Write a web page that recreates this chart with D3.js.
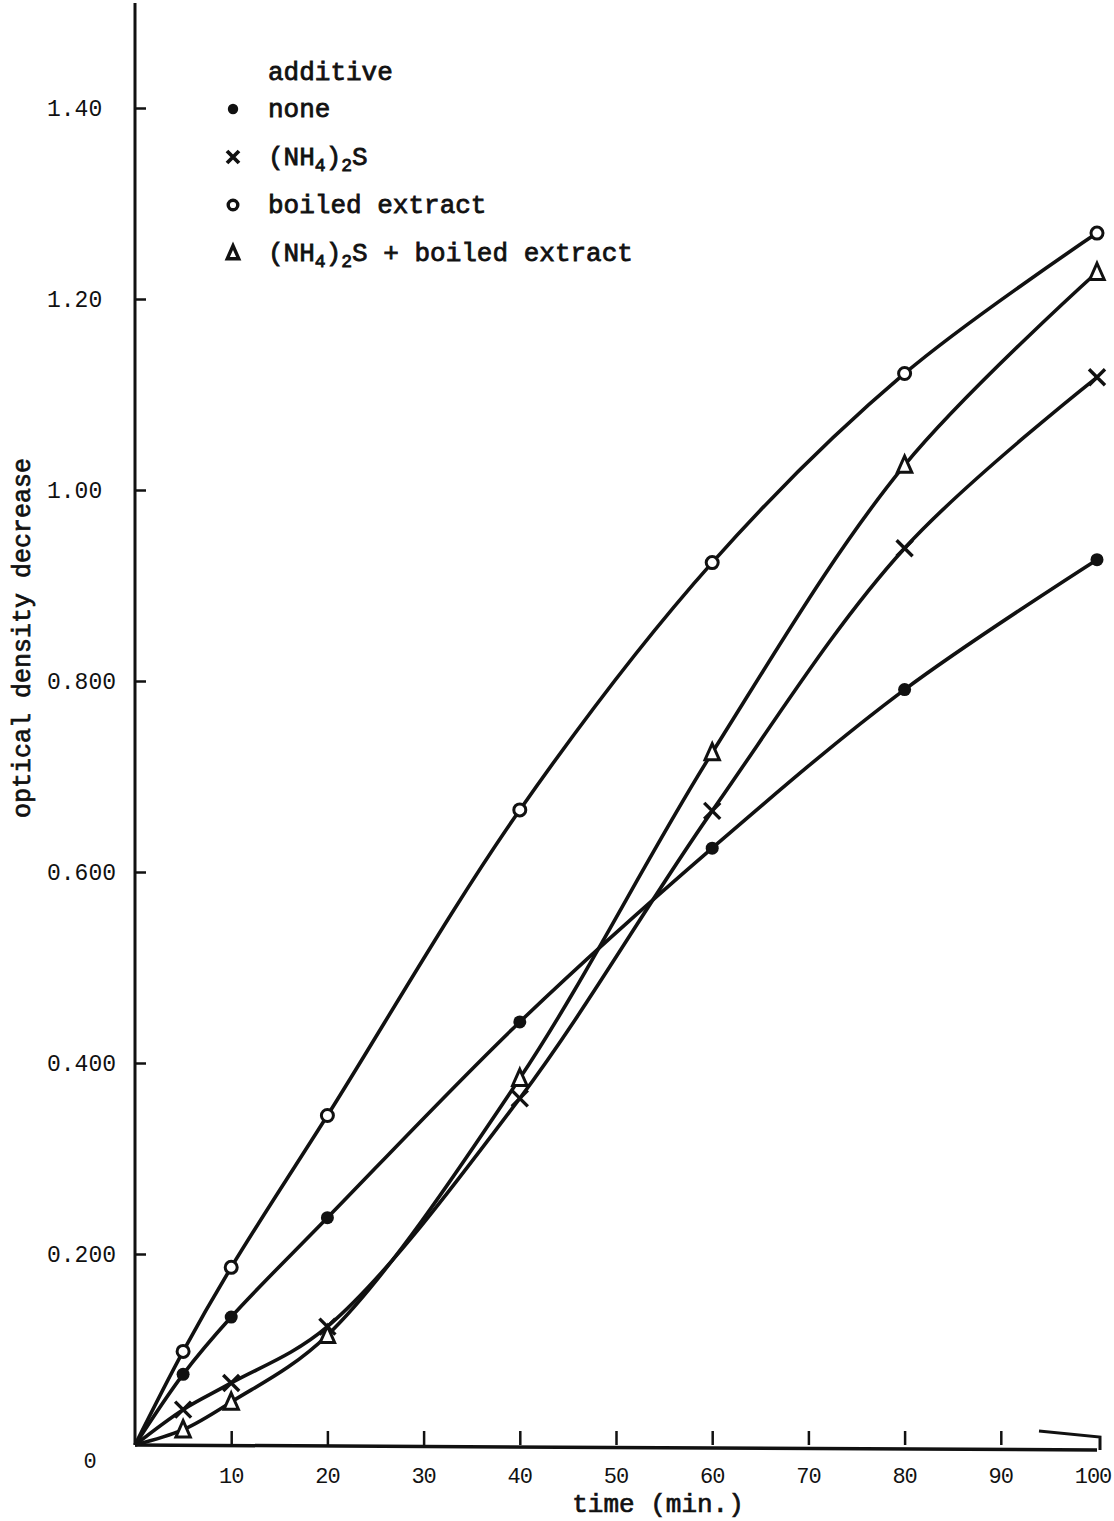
<!DOCTYPE html>
<html lang="en">
<head>
    <meta charset="utf-8">
    <title>optical density decrease</title>
    <style type="text/css">
        body { margin: 0; background: #fff; }
        text { font-family: "Liberation Mono", "DejaVu Sans Mono", monospace; fill: #111; }
    </style>
    <script type="text/javascript" src="https://cdn.jsdelivr.net/npm/d3@7"></script>
</head>
<body>
<script type="text/javascript">
    var w = 1114
    var h = 1521

    // time (min.) and optical density decrease
    var times  = [0, 5, 10, 20, 40, 60, 80, 100];
    var none   = [0, 0.074, 0.134, 0.238, 0.443, 0.625, 0.791, 0.927];
    var nh4s   = [0, 0.037, 0.065, 0.124, 0.363, 0.664, 0.939, 1.118];
    var boiled = [0, 0.098, 0.186, 0.345, 0.665, 0.924, 1.122, 1.269];
    var both   = [0, 0.016, 0.045, 0.115, 0.384, 0.725, 1.026, 1.228];

    var xTicks = [10, 20, 30, 40, 50, 60, 70, 80, 90];
    var xLabels = [10, 20, 30, 40, 50, 60, 70, 80, 90, 100];
    var yTicks = [0.2, 0.4, 0.6, 0.8, 1.0, 1.2, 1.4];
    var yLabels = ["0.200", "0.400", "0.600", "0.800", "1.00", "1.20", "1.40"];

    var seriesNames = ["none", "(NH4)2S", "boiled extract", "(NH4)2S + boiled extract"];
    var seriesMarks = ["dot", "cross", "circle", "triangle"];
    var seriesValues = [none, nh4s, boiled, both];

    var svg = d3.select("body")
                .append("svg")
                .attr("width", w)
                .attr("height", h);

    var x = d3.scaleLinear().domain([0, 100]).range([135, 1097]);
    var y = d3.scaleLinear().domain([0, 1.4]).range([1445, 108]);

    // x axis, ticks pointing up
    var xAxis = d3.axisBottom(x)
                  .tickValues(xTicks)
                  .tickSize(-14)
                  .tickFormat("");
    var gx = svg.append("g")
                .attr("transform", "translate(0," + y(0) + ")")
                .call(xAxis);
    gx.select(".domain").remove();
    gx.selectAll(".tick line").attr("stroke", "#111").attr("stroke-width", 2.5);

    svg.append("line")
       .attr("x1", x(0)).attr("x2", x(100))
       .attr("y1", y(0)).attr("y2", y(0) + 5)
       .attr("stroke", "#111").attr("stroke-width", 3.5);

    // little bracket drawn at the end of the time axis
    svg.append("path")
       .attr("d", "M" + (x(100) - 58) + "," + (y(0) - 14) + " L" + (x(100) + 3) + "," + (y(0) - 8) + " L" + (x(100) + 3) + "," + (y(0) + 5))
       .attr("fill", "none").attr("stroke", "#111").attr("stroke-width", 3);

    svg.selectAll(".xlab")
       .data(xLabels)
       .enter()
       .append("text")
       .attr("class", "xlab")
       .attr("x", function (d) { return d == 100 ? x(d) - 4 : x(d); })
       .attr("y", 1483)
       .attr("text-anchor", "middle")
       .attr("font-size", 22)
       .attr("letter-spacing", -1)
       .text(function (d) { return d; });

    svg.append("text")
       .attr("x", 90).attr("y", 1468)
       .attr("text-anchor", "middle")
       .attr("font-size", 22)
       .text("0");

    svg.append("text")
       .attr("x", 658).attr("y", 1512)
       .attr("text-anchor", "middle")
       .attr("font-size", 26)
       .attr("stroke", "#111").attr("stroke-width", 0.7)
       .text("time (min.)");

    // y axis, ticks pointing right
    var yAxis = d3.axisLeft(y)
                  .tickValues(yTicks)
                  .tickSize(-11)
                  .tickFormat("");
    var gy = svg.append("g")
                .attr("transform", "translate(" + x(0) + ",0)")
                .call(yAxis);
    gy.select(".domain").remove();
    gy.selectAll(".tick line").attr("stroke", "#111").attr("stroke-width", 2.5);

    svg.append("line")
       .attr("x1", x(0)).attr("x2", x(0))
       .attr("y1", y(0)).attr("y2", y(1.51))
       .attr("stroke", "#111").attr("stroke-width", 3);

    svg.selectAll(".ylab")
       .data(yTicks)
       .enter()
       .append("text")
       .attr("class", "ylab")
       .attr("x", 47)
       .attr("y", function (d) { return y(d) + 8; })
       .attr("font-size", 23)
       .text(function (d, i) { return yLabels[i]; });

    svg.append("text")
       .attr("transform", "translate(30," + 638 + ") rotate(-90)")
       .attr("text-anchor", "middle")
       .attr("font-size", 25)
       .attr("stroke", "#111").attr("stroke-width", 0.7)
       .text("optical density decrease");

    // curves
    var line = d3.line()
                 .x(function (d, i) { return x(times[i]); })
                 .y(function (d) { return y(d); })
                 .curve(d3.curveCatmullRom.alpha(0.5));

    svg.selectAll(".curve")
       .data(seriesValues)
       .enter()
       .append("path")
       .attr("class", "curve")
       .attr("d", line)
       .attr("fill", "none")
       .attr("stroke", "#111")
       .attr("stroke-width", 3.6);

    // markers
    function drawMark(g, kind, cx, cy, s, sw) {
        if (kind == "dot") {
            g.append("circle").attr("cx", cx).attr("cy", cy).attr("r", 6.5 * s).attr("fill", "#111");
        } else if (kind == "circle") {
            g.append("circle").attr("cx", cx).attr("cy", cy).attr("r", 6 * s)
             .attr("fill", "#fff").attr("stroke", "#111").attr("stroke-width", sw);
        } else if (kind == "cross") {
            var r = 8 * s;
            g.append("path")
             .attr("d", "M" + (cx - r) + "," + (cy - r) + "L" + (cx + r) + "," + (cy + r) +
                        "M" + (cx + r) + "," + (cy - r) + "L" + (cx - r) + "," + (cy + r))
             .attr("stroke", "#111").attr("stroke-width", sw + 0.4).attr("fill", "none");
        } else {
            var t = 9 * s;
            g.append("path")
             .attr("d", "M" + cx + "," + (cy - t) + "L" + (cx + t * 0.8) + "," + (cy + t * 0.8) +
                        "L" + (cx - t * 0.8) + "," + (cy + t * 0.8) + "Z")
             .attr("fill", "#fff").attr("stroke", "#111").attr("stroke-width", sw);
        }
    }

    var marks = svg.append("g");
    seriesValues.forEach(function (vals, k) {
        vals.forEach(function (v, i) {
            if (i == 0) return;
            drawMark(marks, seriesMarks[k], x(times[i]), y(v), 1, 3);
        });
    });

    // legend
    var legend = svg.append("g");
    legend.append("text")
          .attr("x", 268).attr("y", 80)
          .attr("font-size", 26)
          .attr("stroke", "#111").attr("stroke-width", 0.8)
          .text("additive");

    seriesNames.forEach(function (name, k) {
        var ly = 109 + k * 48;
        drawMark(legend, seriesMarks[k], 233, ly, k == 1 ? 0.75 : 0.8, 3.4);
        var t = legend.append("text")
                      .attr("x", 268).attr("y", ly + 8)
                      .attr("font-size", 26)
                      .attr("stroke", "#111").attr("stroke-width", 0.8);
        if (name.indexOf("(NH4)2S") == 0) {
            t.append("tspan").text("(NH");
            t.append("tspan").attr("font-size", 18).attr("dy", 6).text("4");
            t.append("tspan").attr("dy", -6).text(")");
            t.append("tspan").attr("font-size", 18).attr("dy", 6).text("2");
            t.append("tspan").attr("dy", -6).text("S" + name.slice(7));
        } else {
            t.text(name);
        }
    });
</script>
</body>
</html>
